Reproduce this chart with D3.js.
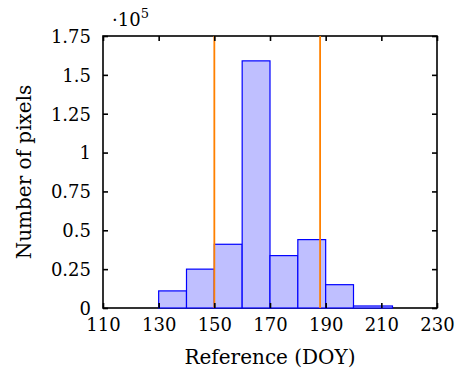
<!DOCTYPE html>
<meta charset="utf-8">
<style>
  body { margin: 0; background: #fff; }
</style>
<script src="https://d3js.org/d3.v7.min.js"></script>
<div id="chart"></div>
<script>
// histogram bins (DOY) and counts
const binEdges = [130, 140, 150, 160, 170, 180, 190, 200, 214];
const counts = [11000, 25000, 41000, 159000, 33700, 44000, 15000, 1300];
// vertical reference lines
const refLines = [150, 188];
// ticks
const xTicks = [110, 130, 150, 170, 190, 210, 230];
const yTicks = [0, 0.25, 0.5, 0.75, 1, 1.25, 1.5, 1.75];

const W = 457, H = 372;
const margin = {top: 36, right: 20, bottom: 64, left: 103};
const width = W - margin.left - margin.right,
      height = H - margin.top - margin.bottom;
const fs = "18px";
const ff = "'DejaVu Serif'";

const svg = d3.select("#chart").append("svg")
    .attr("width", W).attr("height", H);
const g = svg.append("g").attr("transform", `translate(${margin.left},${margin.top})`);

const x = d3.scaleLinear().domain([110, 230]).range([0, width]);
const y = d3.scaleLinear().domain([0, 1.75]).range([height, 0]);

const bins = counts.map((c, i) => ({x0: binEdges[i], x1: binEdges[i + 1], v: c / 1e5}));

// frame
g.append("rect")
  .attr("width", width).attr("height", height)
  .attr("fill", "none").attr("stroke", "#000").attr("stroke-width", 1.6);

// bars
g.selectAll("rect.bar").data(bins).enter().append("rect")
  .attr("class", "bar")
  .attr("x", d => x(d.x0))
  .attr("y", d => y(d.v))
  .attr("width", d => x(d.x1) - x(d.x0))
  .attr("height", d => y(0) - y(d.v))
  .attr("fill", "#bfbfff")
  .attr("stroke", "#0000ff")
  .attr("stroke-width", 1.2);

// orange lines
g.selectAll("line.ref").data(refLines).enter().append("line")
  .attr("x1", d => x(d)).attr("x2", d => x(d))
  .attr("y1", 0).attr("y2", height)
  .attr("stroke", "#ff8000").attr("stroke-width", 1.8);

// axes, ticks pointing inward, mirrored
const tl = 5;
const xb = g.append("g").attr("transform", `translate(0,${height})`)
  .call(d3.axisBottom(x).tickValues(xTicks).tickSize(-tl).tickPadding(tl + 5));
const xt = g.append("g")
  .call(d3.axisTop(x).tickValues(xTicks).tickSize(-tl).tickFormat(""));
const yl = g.append("g")
  .call(d3.axisLeft(y).tickValues(yTicks).tickSize(-tl).tickPadding(tl + 7)
    .tickFormat(d => String(d)));
const yr = g.append("g").attr("transform", `translate(${width},0)`)
  .call(d3.axisRight(y).tickValues(yTicks).tickSize(-tl).tickFormat(""));

[xb, xt, yl, yr].forEach(a => {
  a.select(".domain").remove();
  a.selectAll(".tick line").attr("stroke", "#000").attr("stroke-width", 1.6);
});
yl.selectAll("text").attr("dy", "0.35em");

svg.selectAll("g").attr("font-family", null).attr("font-size", null);
svg.selectAll("text")
  .style("font-family", ff)
  .style("font-size", fs)
  .attr("fill", "#000");

// labels
svg.append("text")
  .attr("x", margin.left + width / 2).attr("y", 364)
  .attr("text-anchor", "middle")
  .style("font-family", ff).style("font-size", "20px")
  .text("Reference (DOY)");
svg.append("text")
  .attr("transform", `translate(31,${margin.top + height / 2}) rotate(-90)`)
  .attr("text-anchor", "middle")
  .style("font-family", ff).style("font-size", "20px")
  .text("Number of pixels");

const exp = svg.append("text").attr("x", 112).attr("y", 26)
  .style("font-family", ff).style("font-size", fs);
exp.append("tspan").text("\u00b710");
exp.append("tspan").attr("dy", -8).style("font-size", "13px").text("5");
</script>
